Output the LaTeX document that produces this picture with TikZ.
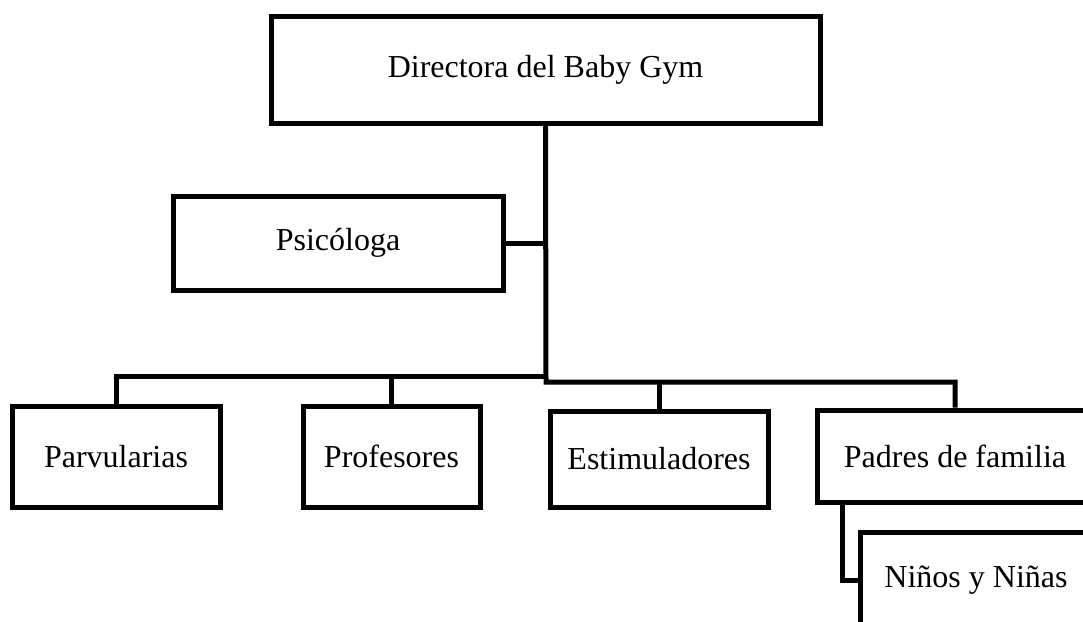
\documentclass[tikz,border=0pt]{standalone}
\usepackage{fontspec}
\setmainfont{Liberation Serif}
\usepackage{tikz}
\usetikzlibrary{calc}

\begin{document}
\begin{tikzpicture}[x=1pt, y=-1pt, line width=5pt,
    box/.style={draw, rectangle, inner sep=0pt, font=\fontsize{32}{38}\selectfont}]
    \useasboundingbox (0,0) rectangle (1083,621);
    \clip (0,0) rectangle (1083,621);

    \node [box, minimum width=549pt, minimum height=107pt] (dir) at (545.5,69.5) {Directora del Baby Gym};
    \node [box, minimum width=330pt, minimum height=94pt] (psi) at (338,243) {Psicóloga};
    \node [box, minimum width=208pt, minimum height=101pt] (parv) at (116,456.5) {Parvularias};
    \node [box, minimum width=177pt, minimum height=101pt] (prof) at (391.5,456.5) {Profesores};
    \node [box, minimum width=218pt, minimum height=96pt] (estim) at (659,459) {Estimuladores};
    \node [box, minimum width=276pt, minimum height=92pt] (padres) at (955,456) {Padres de familia};
    \node [box, minimum width=232pt, minimum height=96pt] (ninos) at (976,580) {Niños y Niñas};

    \coordinate (busL) at (546,376);
    \coordinate (busR) at (546,382);

    \draw (dir.south) -- (busR) -| (padres.north);
    \draw (psi.east) -- (psi.east -| dir.south);
    \draw (parv.north) |- (busL);

    \foreach \n/\b in {prof/busL, estim/busR} {
        \draw (\n.north) -- (\n.north |- \b);
    }

    \draw ([xshift=28pt]padres.south west) |- (ninos.west);
\end{tikzpicture}
\end{document}
